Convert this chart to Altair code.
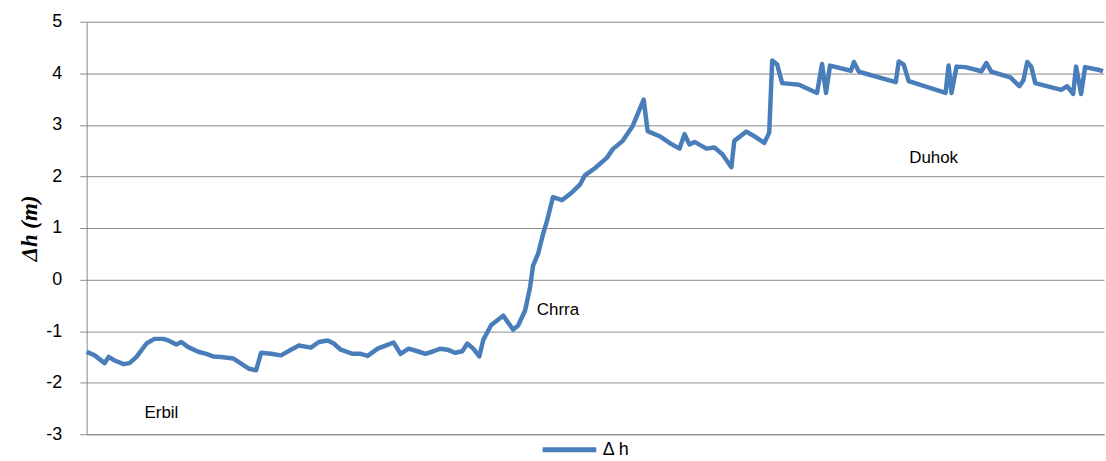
import altair as alt
import pandas as pd

# distance along route (station index units) and height difference (m)
dist = [0, 8, 18, 22, 28, 37, 43, 50, 60, 68, 77, 83, 90, 95, 102, 112, 120, 127, 135, 147,
        155, 163, 170, 175, 185, 195, 205, 213, 225, 233, 242, 248, 255, 267, 275, 282, 292, 300, 308, 315,
        323, 332, 340, 348, 355, 362, 370, 377, 382, 388, 394, 398, 406, 418, 428, 433, 440, 445, 448, 453,
        458, 462, 468, 477, 487, 495, 500, 510, 522, 528, 538, 548, 559, 563, 575, 585, 595, 600, 605, 610,
        622, 630, 638, 647, 650, 662, 670, 680, 685, 688, 693, 698, 715, 733, 738, 742, 746, 767, 770, 775,
        812, 815, 820, 825, 862, 865, 868, 873, 882, 898, 903, 908, 927, 936, 940, 944, 948, 952, 978, 984,
        990, 993, 998, 1002, 1015, 1020]
dh = [-1.40, -1.47, -1.62, -1.50, -1.57, -1.64, -1.62, -1.50, -1.24, -1.15,
      -1.15, -1.19, -1.26, -1.21, -1.31, -1.40, -1.44, -1.49, -1.50, -1.53,
      -1.63, -1.73, -1.76, -1.42, -1.44, -1.47, -1.36, -1.28, -1.32, -1.21,
      -1.18, -1.24, -1.36, -1.44, -1.44, -1.48, -1.34, -1.28, -1.22, -1.44,
      -1.34, -1.39, -1.44, -1.39, -1.34, -1.36, -1.42, -1.39, -1.24, -1.34,
      -1.49, -1.17, -0.88, -0.70, -0.97, -0.89, -0.60, -0.15, 0.27, 0.50,
      0.88, 1.14, 1.60, 1.54, 1.69, 1.84, 2.02, 2.16, 2.36, 2.53,
      2.69, 2.98, 3.49, 2.88, 2.78, 2.65, 2.54, 2.82, 2.62, 2.67,
      2.54, 2.56, 2.43, 2.18, 2.69, 2.87, 2.78, 2.65, 2.85, 4.25,
      4.17, 3.81, 3.78, 3.62, 4.18, 3.62, 4.15, 4.05, 4.22, 4.03,
      3.83, 4.23, 4.17, 3.85, 3.62, 4.15, 3.62, 4.13, 4.12, 4.04,
      4.20, 4.03, 3.92, 3.75, 3.86, 4.22, 4.13, 3.81, 3.68, 3.75,
      3.60, 4.13, 3.60, 4.12, 4.07, 4.04]

labels = ["Erbil", "Chrra", "Duhok"]
label_x = [75, 473, 850]
label_y = [-2.59, -0.60, 2.36]

y_ticks = [-3, -2, -1, 0, 1, 2, 3, 4, 5]

n = min(len(dist), len(dh))
df = pd.DataFrame({"d": dist[:n], "h": dh[:n], "series": ["Δ h"] * n})
lab = pd.DataFrame({"d": label_x, "h": label_y, "name": labels})

FONT = "Liberation Sans"
GRID = "#8c8c8c"

x_enc = alt.X("d:Q", scale=alt.Scale(domain=[0, 1021], nice=False, zero=False),
              axis=alt.Axis(title=None, labels=False, ticks=False, grid=False,
                            domainColor=GRID, domainWidth=1))
y_enc = alt.Y("h:Q", scale=alt.Scale(domain=[-3, 5], nice=False),
              axis=alt.Axis(values=y_ticks, labelExpr="datum.value", title="Δh (m)", grid=True,
                            gridColor=GRID, gridWidth=1, domainColor=GRID, tickColor=GRID,
                            tickSize=7, labelPadding=18, labelFontSize=18, labelFont=FONT,
                            labelColor="black", titleFont="Liberation Serif",
                            titleFontSize=23, titleFontStyle="italic", titleFontWeight="bold",
                            titleColor="black", titlePadding=4))

line = alt.Chart(df).mark_line(strokeWidth=4.5, strokeJoin="round").encode(
    x=x_enc,
    y=y_enc,
    color=alt.Color("series:N", scale=alt.Scale(range=["#4a7ebb"]),
                    legend=alt.Legend(title=None, orient="none", legendX=455, legendY=400,
                                      symbolType="stroke", symbolStrokeWidth=5,
                                      symbolSize=2900, labelFontSize=18, labelFont=FONT,
                                      labelColor="black", labelOffset=4)),
)

text = alt.Chart(lab).mark_text(font=FONT, fontSize=17, color="black").encode(
    x="d:Q", y="h:Q", text="name:N"
)

chart = (line + text).properties(width=1021, height=414, padding={"left": 18, "top": 12, "right": 0, "bottom": 0}).configure_view(
    stroke=None
)

chart.save("out.html", embed_options={"renderer": "svg", "actions": False})
